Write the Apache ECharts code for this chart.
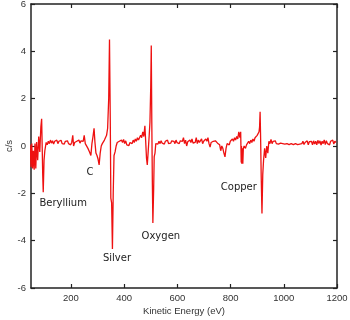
<!DOCTYPE html>
<html>
<head>
<meta charset="utf-8">
<script src="https://cdn.jsdelivr.net/npm/echarts@6/dist/echarts.min.js"></script>
<style>
  html, body { margin: 0; padding: 0; background: #fff; }
  #chart { width: 350px; height: 320px; }
</style>
</head>
<body>
<div id="chart"></div>
<script>
// Auger spectrum (eV, c/s)
const energy = [
  47, 50, 53, 56, 59, 62, 65, 68, 71, 75, 79, 83, 87, 90, 92, 94, 96, 99, 102, 107, 111,
  115, 119, 123, 127, 131, 135, 139, 143, 147, 151, 155, 159, 163, 167, 171, 175, 179, 183, 187, 191, 195, 199, 203, 207, 210,
  214, 218, 222, 226, 230, 234, 238, 242, 246, 250, 254, 259, 264, 270, 275, 279, 283, 287, 290, 294, 298, 302, 306, 310,
  314, 318, 322, 326, 330, 334, 338, 342, 345, 348, 350, 353, 356, 359, 362, 366, 370, 374,
  378, 382, 386, 390, 394, 398, 402, 406, 410, 414, 418, 422, 426, 430, 434, 438, 442, 446, 450, 454, 458, 462, 466, 470, 474, 478,
  481, 484, 487, 490, 494, 497, 500, 502, 504, 506, 508, 511, 513, 516, 519, 523,
  527, 531, 535, 539, 543, 547, 551, 555, 559, 563, 567, 571, 575, 579, 583, 587, 591, 595, 599, 603, 607, 611, 615, 619, 623,
  627, 631, 635, 639, 643, 647, 651, 655, 659, 663, 667, 671, 675, 679, 683, 687, 691, 695, 699, 703, 707, 711, 715, 719, 723,
  727, 731, 735, 739, 743, 747, 751, 755, 759, 763, 767, 771, 775, 779, 783, 787, 791, 795, 799, 803, 807, 811, 815, 819, 823,
  827, 831, 835, 838, 840, 841, 842, 843, 844, 845, 846, 848, 851, 856, 860, 864, 868, 872, 876, 880, 884, 888, 892, 896, 900,
  904, 907, 909, 911, 913, 915, 918, 921, 924, 928, 932, 936, 940, 944, 948, 952, 956, 960,
  964, 968, 972, 976, 980, 984, 988, 992, 996, 1000, 1004, 1008, 1012, 1016, 1020, 1024, 1028, 1032, 1036, 1040,
  1044, 1048, 1052, 1056, 1060, 1064, 1068, 1072, 1076, 1080, 1084, 1088, 1092, 1096, 1100, 1104, 1108, 1112, 1116, 1120,
  1124, 1128, 1132, 1136, 1140, 1144, 1148, 1152, 1156, 1160, 1164, 1168, 1172, 1176, 1180, 1184, 1188, 1192, 1196
];
const cps = [
  0.05, -0.9, 0.1, -0.95, -0.2, -1.0, 0.1, -0.95, 0.17, -0.6, 0.4, -0.25, 0.8, 1.15, 0.0, -1.2, -1.95, -0.6, -0.2, 0.15, 0.05,
  0.2, 0.1, 0.25, 0.12, 0.22, 0.08, 0.2, 0.15, 0.25, 0.1, 0.2, 0.12, 0.24, 0.1, 0.18, 0.08, 0.2, 0.14, 0.22, 0.1, 0.16, 0.05, 0.15, 0.45, 0.0,
  0.15, 0.1, 0.2, 0.15, 0.25, 0.12, 0.22, 0.3, 0.2, 0.45, 0.1, 0.05, -0.1, -0.25, -0.4, 0.1, 0.4, 0.75, 0.2, -0.3, -0.4, -0.55, -0.8, -0.3,
  0.0, 0.1, 0.15, 0.25, 0.3, 0.45, 0.75, 2.0, 4.5, 1.0, -2.2, -2.4, -4.35, -2.0, -0.4, -0.25, 0.0, 0.15,
  0.1, 0.2, 0.12, 0.25, 0.15, 0.28, 0.1, 0.22, 0.05, 0.12, 0.02, 0.15, 0.2, 0.1, 0.25, 0.15, 0.3, 0.2, 0.35, 0.25, 0.3, 0.45, 0.35, 0.6, 0.4, 0.85,
  0.2, -0.5, -0.8, -0.3, 0.4, 1.0, 2.5, 4.25, 1.0, -1.5, -3.25, -1.8, -0.45, -0.3, 0.1, 0.15,
  0.08, 0.2, 0.1, 0.22, 0.12, 0.18, 0.08, 0.2, 0.14, 0.25, 0.1, 0.18, 0.12, 0.22, 0.15, 0.2, 0.1, 0.25, 0.14, 0.18, 0.1, 0.22, 0.15, 0.2, 0.35,
  0.1, 0.25, 0.0, 0.18, 0.1, 0.25, 0.15, 0.3, 0.12, 0.2, 0.15, 0.35, 0.1, 0.25, 0.15, 0.2, 0.3, 0.1, 0.2, 0.15, 0.3, 0.2, 0.35, 0.1, -0.05,
  0.15, 0.1, 0.2, 0.15, 0.22, 0.3, 0.12, 0.2, 0.05, -0.2, 0.0, -0.1, -0.3, -0.46, -0.1, 0.1, 0.15, 0.05, 0.2, 0.12, 0.3, 0.2, 0.35, 0.25, 0.4,
  0.3, 0.6, 0.35, 0.6, -0.7, 0.0, -0.75, -0.1, -0.7, -0.2, -0.75, -0.1, 0.0, -0.1, 0.05, 0.1, 0.2, 0.1, 0.25, 0.15, 0.3, 0.2, 0.35, 0.3, 0.45,
  0.4, 0.6, 0.8, 1.45, 0.3, -1.2, -2.85, -1.2, -0.6, -0.1, -0.5, 0.0, -0.3, 0.2, 0.1, 0.28, 0.1, 0.2,
  0.12, 0.22, 0.1, 0.18, 0.08, 0.15, 0.12, 0.2, 0.1, 0.16, 0.08, 0.14, 0.1, 0.18, 0.06, 0.14, 0.1, 0.16, 0.06, 0.12,
  0.1, 0.18, 0.06, 0.14, 0.08, 0.16, 0.1, 0.2, 0.06, 0.15, 0.1, 0.22, 0.05, 0.18, 0.1, 0.2, 0.05, 0.22, 0.08, 0.2,
  0.05, 0.24, 0.1, 0.22, 0.04, 0.2, 0.1, 0.26, 0.06, 0.22, 0.1, 0.18, 0.05, 0.2, 0.12, 0.25, 0.08, 0.2, 0.15
];

// peak annotations (placed in data units)
const peakNames = ['Beryllium', 'C', 'Silver', 'Oxygen', 'Copper'];
const peakLabelX = [171, 272, 373, 538, 831];
const peakLabelY = [-2.41, -1.1, -4.73, -3.8, -1.74];

const xTicks = [200, 400, 600, 800, 1000, 1200];

const chart = echarts.init(document.getElementById('chart'));

const axisCommon = {
  axisLine: { show: true, onZero: false, lineStyle: { color: '#222', width: 1.5 } },
  axisTick: { show: true, inside: true, length: 4, lineStyle: { color: '#222', width: 1.2 } },
  splitLine: { show: false }
};
const tickFont = { fontFamily: 'Liberation Sans', fontSize: 9.5, color: '#333' };

chart.setOption({
  animation: false,
  backgroundColor: '#fff',
  grid: { left: 31, right: 13, top: 4, bottom: 32, containLabel: false, outerBoundsMode: 'none' },
  xAxis: [
    {
      type: 'value', min: 50, max: 1200, position: 'bottom',
      ...axisCommon,
      axisTick: { ...axisCommon.axisTick, customValues: xTicks },
      axisLabel: { ...tickFont, margin: 5, customValues: xTicks, formatter: v => String(v) },
      name: 'Kinetic Energy (eV)', nameLocation: 'middle', nameGap: 18, nameMoveOverlap: false,
      nameTextStyle: { fontFamily: 'Liberation Sans', fontSize: 9.5, color: '#333' }
    },
    {
      type: 'value', min: 50, max: 1200, position: 'top',
      ...axisCommon,
      axisTick: { ...axisCommon.axisTick, customValues: xTicks },
      axisLabel: { show: false }
    }
  ],
  yAxis: [
    {
      type: 'value', min: -6, max: 6, interval: 2, position: 'left',
      ...axisCommon,
      axisLabel: { ...tickFont, margin: 5 },
      name: 'c/s', nameLocation: 'middle', nameGap: 17, nameRotate: 90, nameMoveOverlap: false,
      nameTextStyle: { fontFamily: 'Liberation Sans', fontSize: 9.5, color: '#333' }
    },
    {
      type: 'value', min: -6, max: 6, interval: 2, position: 'right',
      ...axisCommon,
      axisLabel: { show: false }
    }
  ],
  series: [
    {
      type: 'line',
      data: energy.map((e, i) => [e, cps[i]]),
      showSymbol: false,
      silent: true,
      lineStyle: { color: '#ee1111', width: 1.3 },
      markPoint: {
        symbol: 'circle',
        symbolSize: 1,
        itemStyle: { color: 'rgba(0,0,0,0)' },
        label: {
          show: true, position: 'inside', formatter: '{b}',
          fontFamily: 'DejaVu Sans', fontSize: 10, color: '#222'
        },
        data: peakNames.map((n, i) => ({ name: n, coord: [peakLabelX[i], peakLabelY[i]] }))
      }
    }
  ]
});
</script>
</body>
</html>
